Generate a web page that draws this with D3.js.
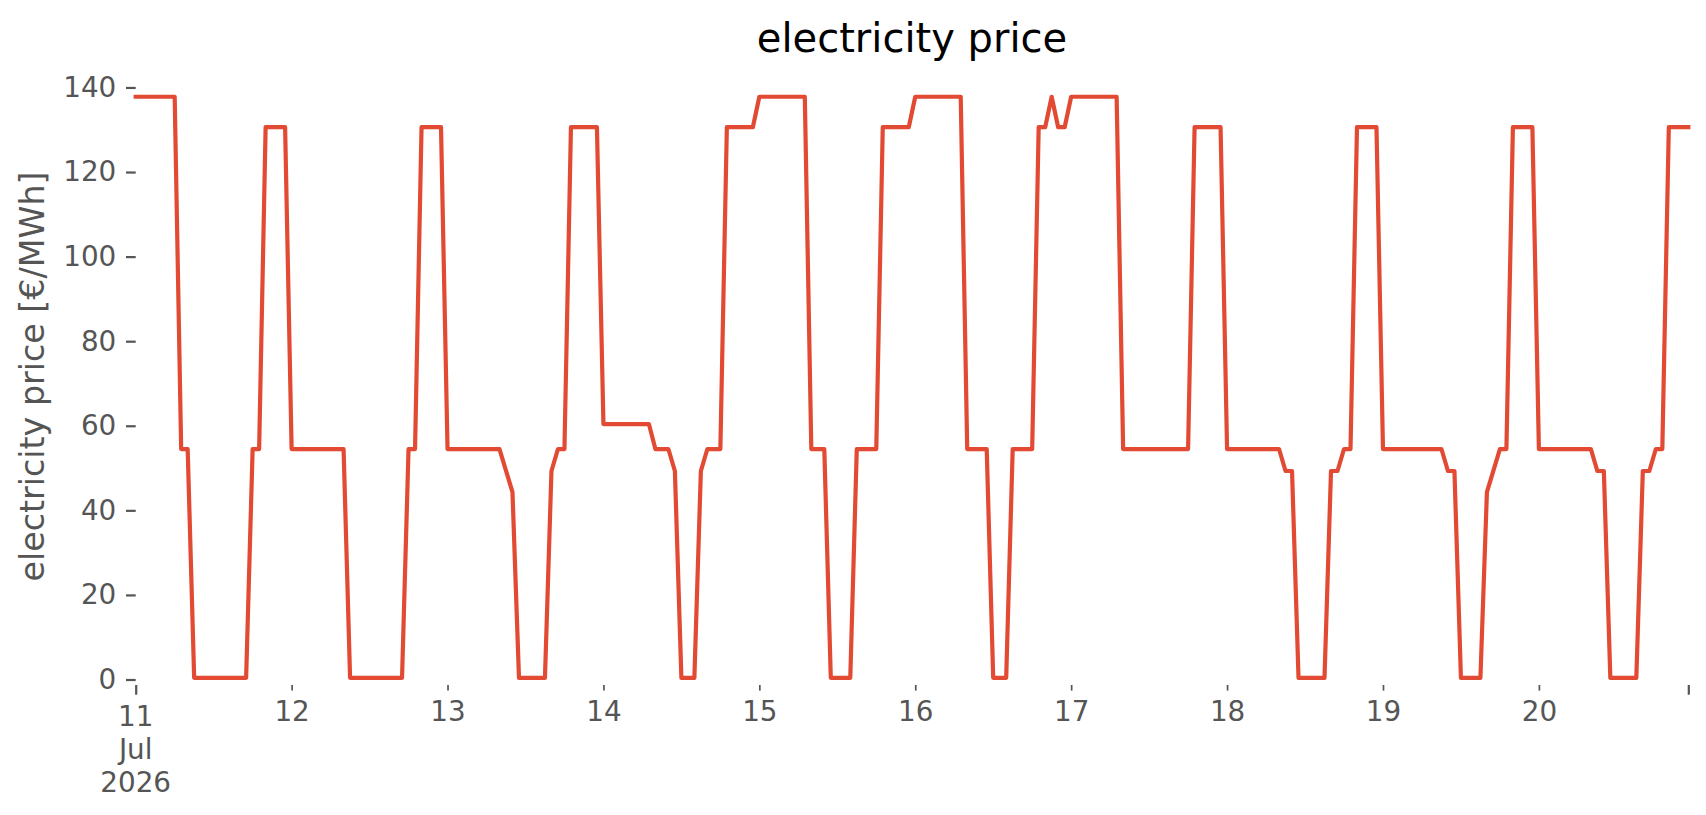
<!DOCTYPE html>
<html>
<head>
<meta charset="utf-8">
<script src="https://cdn.jsdelivr.net/npm/d3@7"></script>
<style>
  body { margin: 0; background: #ffffff; }
  svg { display: block; font-family: "DejaVu Sans", sans-serif; }
  .axis path.domain { display: none; }
  .axis line { stroke: #555555; }
  .axis text { fill: #555555; font-size: 27.8px; font-family: "DejaVu Sans", sans-serif; }
</style>
</head>
<body>
<svg width="1706" height="815"></svg>
<script>
// hourly electricity price [€/MWh], 11 Jul 2026 00:00 .. 20 Jul 2026 23:00
let startTime = new Date(2026, 6, 11, 0, 0);

let day11 = [137.8,137.8,137.8,137.8,137.8,137.8,137.8,54.5,54.5,0.4,0.4,0.4,0.4,0.4,0.4,0.4,0.4,0.4,54.5,54.5,130.6,130.6,130.6,130.6];
let day12 = [54.5,54.5,54.5,54.5,54.5,54.5,54.5,54.5,54.5,0.4,0.4,0.4,0.4,0.4,0.4,0.4,0.4,0.4,54.5,54.5,130.6,130.6,130.6,130.6];
let day13 = [54.5,54.5,54.5,54.5,54.5,54.5,54.5,54.5,54.5,49.4,44.3,0.4,0.4,0.4,0.4,0.4,49.3,54.5,54.5,130.6,130.6,130.6,130.6,130.6];
let day14 = [60.4,60.4,60.4,60.4,60.4,60.4,60.4,60.4,54.5,54.5,54.5,49.3,0.4,0.4,0.4,49.3,54.5,54.5,54.5,130.6,130.6,130.6,130.6,130.6];
let day15 = [137.8,137.8,137.8,137.8,137.8,137.8,137.8,137.8,54.5,54.5,54.5,0.4,0.4,0.4,0.4,54.5,54.5,54.5,54.5,130.6,130.6,130.6,130.6,130.6];
let day16 = [137.8,137.8,137.8,137.8,137.8,137.8,137.8,137.8,54.5,54.5,54.5,54.5,0.4,0.4,0.4,54.5,54.5,54.5,54.5,130.6,130.6,137.8,130.6,130.6];
let day17 = [137.8,137.8,137.8,137.8,137.8,137.8,137.8,137.8,54.5,54.5,54.5,54.5,54.5,54.5,54.5,54.5,54.5,54.5,54.5,130.6,130.6,130.6,130.6,130.6];
let day18 = [54.5,54.5,54.5,54.5,54.5,54.5,54.5,54.5,54.5,49.3,49.3,0.4,0.4,0.4,0.4,0.4,49.3,49.3,54.5,54.5,130.6,130.6,130.6,130.6];
let day19 = [54.5,54.5,54.5,54.5,54.5,54.5,54.5,54.5,54.5,54.5,49.3,49.3,0.4,0.4,0.4,0.4,44.3,49.4,54.5,54.5,130.6,130.6,130.6,130.6];
let day20 = [54.5,54.5,54.5,54.5,54.5,54.5,54.5,54.5,54.5,49.3,49.3,0.4,0.4,0.4,0.4,0.4,49.3,49.3,54.5,54.5,130.6,130.6,130.6,130.6];

let yTicks = [0, 20, 40, 60, 80, 100, 120, 140];
let dayTickLabels = ["12", "13", "14", "15", "16", "17", "18", "19", "20"];
let firstTickLabel = ["11", "Jul", "2026"];

let prices = [].concat(day11, day12, day13, day14, day15, day16, day17, day18, day19, day20);
let times = prices.map(function (p, i) { return d3.timeHour.offset(startTime, i); });
let endTime = times[times.length - 1];

let svg = d3.select("svg");
let plotLeft = 135.7, plotRight = 1688.3, plotTop = 68, plotBottom = 685;

let x = d3.scaleTime().domain([startTime, endTime]).range([plotLeft, plotRight]);
let y = d3.scaleLinear().domain([-1.3, 144.6]).range([plotBottom, plotTop]);

// y axis
let yAxis = svg.append("g")
    .attr("class", "axis")
    .attr("transform", "translate(" + plotLeft + ",0)")
    .call(d3.axisLeft(y).tickValues(yTicks).tickSize(9.7).tickPadding(9.7).tickSizeOuter(0));
yAxis.selectAll("line").attr("stroke-width", 2.2);

// minor day ticks with labels
let dayTicks = d3.timeDay.range(d3.timeDay.offset(startTime, 1), endTime);
let xMinor = svg.append("g")
    .attr("class", "axis")
    .attr("transform", "translate(0," + plotBottom + ")")
    .call(d3.axisBottom(x).tickValues(dayTicks)
        .tickFormat(function (d, i) { return dayTickLabels[i]; })
        .tickSize(5.6).tickPadding(9.7).tickSizeOuter(0));
xMinor.selectAll("line").attr("stroke-width", 1.7);
xMinor.selectAll("text").attr("dy", "0.76em");

// major ticks at both ends
let xMajor = svg.append("g")
    .attr("class", "axis")
    .attr("transform", "translate(0," + plotBottom + ")")
    .call(d3.axisBottom(x).tickValues([startTime, endTime]).tickFormat("")
        .tickSize(9.7).tickSizeOuter(0));
xMajor.selectAll("line").attr("stroke-width", 2.2);

let firstLabel = svg.append("text")
    .attr("x", x(startTime))
    .attr("y", plotBottom + 9.7 + 9.7)
    .attr("text-anchor", "middle")
    .attr("fill", "#555555")
    .attr("font-size", "27.8px");
firstLabel.selectAll("tspan")
    .data(firstTickLabel)
    .enter()
    .append("tspan")
    .attr("x", x(startTime))
    .attr("dy", function (d, i) { return i === 0 ? "0.76em" : "1.2em"; })
    .text(function (d) { return d; });

// price line
let line = d3.line()
    .x(function (d, i) { return x(times[i]); })
    .y(function (d) { return y(d); });

svg.append("path")
    .datum(prices)
    .attr("fill", "none")
    .attr("stroke", "#E24A33")
    .attr("stroke-width", 4.2)
    .attr("stroke-linejoin", "round")
    .attr("stroke-linecap", "square")
    .attr("d", line);

// title
svg.append("text")
    .attr("x", (plotLeft + plotRight) / 2)
    .attr("y", 51.7)
    .attr("text-anchor", "middle")
    .attr("fill", "#000000")
    .attr("font-size", "40px")
    .text("electricity price");

// y label
svg.append("text")
    .attr("transform", "translate(43.6," + ((plotTop + plotBottom) / 2) + ") rotate(-90)")
    .attr("text-anchor", "middle")
    .attr("fill", "#555555")
    .attr("font-size", "33.3px")
    .text("electricity price [€/MWh]");
</script>
</body>
</html>
